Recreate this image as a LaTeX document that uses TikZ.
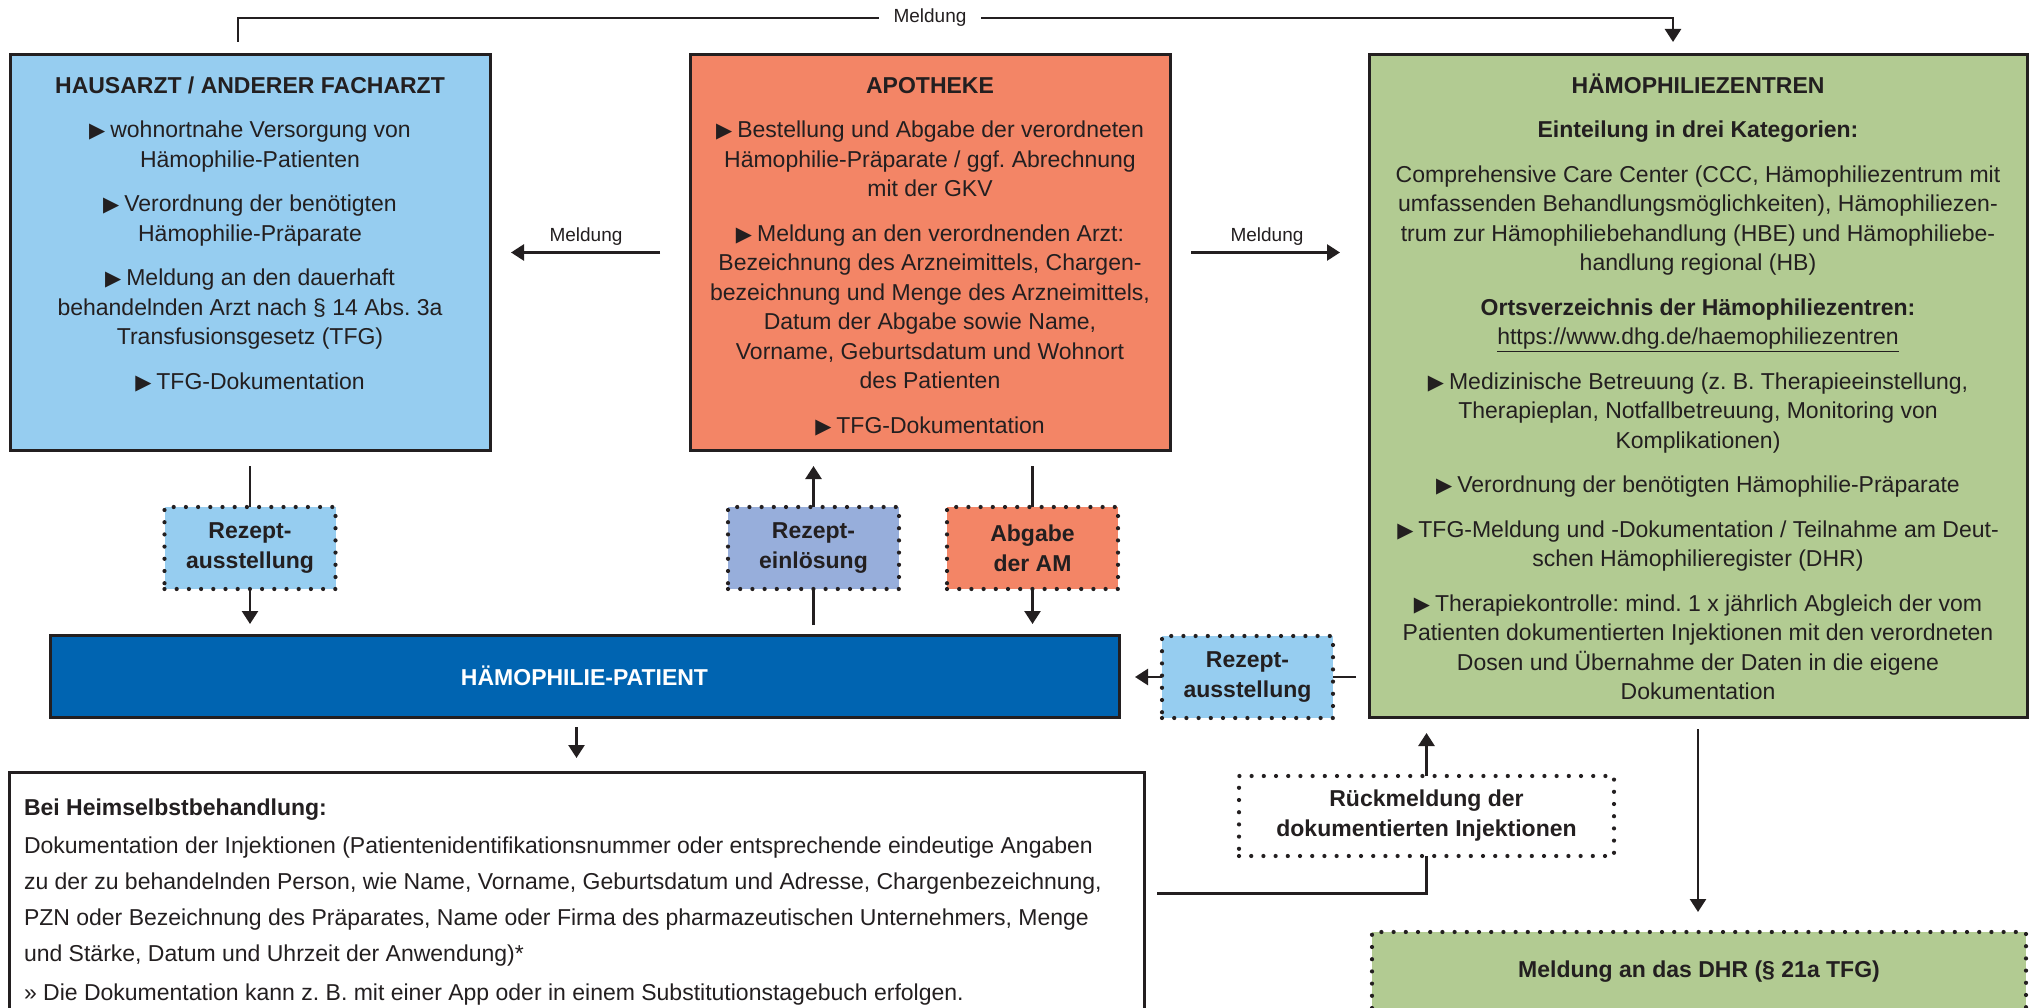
\documentclass[tikz,border=0pt]{standalone}
\usepackage{fontspec}
\setmainfont{Liberation Sans}
\newfontfamily\symfont{DejaVu Sans}
\usetikzlibrary{arrows.meta,calc}
\definecolor{ink}{HTML}{231F20}
\definecolor{hblue}{HTML}{96CDF0}
\definecolor{orangeC}{HTML}{F38566}
\definecolor{zgreen}{HTML}{B2CB92}
\definecolor{peri}{HTML}{97AEDB}
\definecolor{patblue}{HTML}{0064B1}
\newcommand{\tri}{{\symfont\fontsize{21}{21}\selectfont ▶}\hspace{5pt}}
\frenchspacing
\begin{document}
\frenchspacing
\begin{tikzpicture}[x=1pt,y=-1pt,
  every node/.style={inner sep=0pt, outer sep=0pt, text=ink},
  box/.style={draw=ink, line width=3pt, rectangle},
  dbox/.style={draw=ink, line width=4.2pt, dash pattern=on 0pt off 12.2pt, line cap=round, rectangle,
    font=\bfseries\fontsize{23}{30}\selectfont, align=center},
  conn/.style={draw=ink, line width=2.6pt},
  arr/.style={conn, -{Triangle[width=16pt,length=13pt]}},
  body/.style={font=\fontsize{23}{29.5}\selectfont\frenchspacing, align=center, anchor=north},
  lbl/.style={font=\fontsize{19}{22}\selectfont}
]
\useasboundingbox (0,0) rectangle (2035,1008);
\clip (0,0) rectangle (2035,1008);

% main boxes
\node[box, fill=hblue, minimum width=480pt, minimum height=395pt] (haus) at (250,252.5) {};
\node[box, fill=orangeC, minimum width=480pt, minimum height=395pt] (apo) at (930,252.5) {};
\node[box, fill=zgreen, minimum width=658pt, minimum height=662pt] (zent) at (1698,386) {};
\node[box, fill=patblue, minimum width=1069pt, minimum height=82pt, text=white,
  font=\bfseries\fontsize{23}{29.5}\selectfont] (pat) at (584.5,676) {HÄMOPHILIE-PATIENT};
\node[box, fill=white, minimum width=1135pt, minimum height=243pt] (heim) at (576.5,893.5) {};

% small dotted boxes
\node[dbox, fill=hblue, minimum width=171pt, minimum height=82pt] (rez1) at (250,548) {Rezept-\\ausstellung};
\node[dbox, fill=peri, minimum width=171pt, minimum height=82pt] (rez2) at (813.5,548) {Rezept-\\einlösung};
\node[dbox, fill=orangeC, minimum width=171pt, minimum height=82pt] (abg) at (1032.5,548) {Abgabe\\der AM};
\node[dbox, fill=hblue, minimum width=171pt, minimum height=82pt] (rez3) at (1247.5,677) {Rezept-\\ausstellung};
\node[dbox, fill=white, minimum width=375pt, minimum height=80pt] (rueck) at (1426.5,816) {Rückmeldung der\\dokumentierten Injektionen};
\node[dbox, fill=zgreen, minimum width=654pt, minimum height=80pt] (dhr) at (1699,972) {Meldung an das DHR (§ 21a TFG)};

% texts of main boxes
\node[body] (hausT) at (250,72.6) {\strut\textbf{HAUSARZT / ANDERER FACHARZT}\\[15pt]
\tri wohnortnahe Versorgung von\\
Hämophilie-Patienten\\[15pt]
\tri Verordnung der benötigten\\
Hämophilie-Präparate\\[15pt]
\tri Meldung an den dauerhaft\\
behandelnden Arzt nach § 14 Abs. 3a\\
Transfusionsgesetz (TFG)\\[15pt]
\tri TFG-Dokumentation};

\node[body] (apoT) at (930,72.6) {\strut\textbf{APOTHEKE}\\[15pt]
\tri Bestellung und Abgabe der verordneten\\
Hämophilie-Präparate / ggf. Abrechnung\\
mit der GKV\\[15pt]
\tri Meldung an den verordnenden Arzt:\\
Bezeichnung des Arzneimittels, Chargen-\\
bezeichnung und Menge des Arzneimittels,\\
Datum der Abgabe sowie Name,\\
Vorname, Geburtsdatum und Wohnort\\
des Patienten\\[15pt]
\tri TFG-Dokumentation};

\node[body] (zentT) at (1698,72.6) {\strut\textbf{HÄMOPHILIEZENTREN}\\[15pt]
\textbf{Einteilung in drei Kategorien:}\\[15pt]
Comprehensive Care Center (CCC, Hämophiliezentrum mit\\
umfassenden Behandlungsmöglichkeiten), Hämophiliezen-\\
trum zur Hämophiliebehandlung (HBE) und Hämophiliebe-\\
handlung regional (HB)\\[15pt]
\textbf{Ortsverzeichnis der Hämophiliezentren:}\\
\underline{https://www.dhg.de/haemophiliezentren}\\[15pt]
\tri Medizinische Betreuung (z. B. Therapieeinstellung,\\
Therapieplan, Notfallbetreuung, Monitoring von\\
Komplikationen)\\[15pt]
\tri Verordnung der benötigten Hämophilie-Präparate\\[15pt]
\tri TFG-Meldung und -Dokumentation / Teilnahme am Deut-\\
schen Hämophilieregister (DHR)\\[15pt]
\tri Therapiekontrolle: mind. 1 x jährlich Abgleich der vom\\
Patienten dokumentierten Injektionen mit den verordneten\\
Dosen und Übernahme der Daten in die eigene\\
Dokumentation};

\node[font=\fontsize{23}{36}\selectfont\frenchspacing, align=left, anchor=north west] (heimT) at (24,790) {\strut\textbf{Bei Heimselbstbehandlung:}\\[2pt]
Dokumentation der Injektionen (Patientenidentifikationsnummer oder entsprechende eindeutige Angaben\\
zu der zu behandelnden Person, wie Name, Vorname, Geburtsdatum und Adresse, Chargenbezeichnung,\\
PZN oder Bezeichnung des Präparates, Name oder Firma des pharmazeutischen Unternehmers, Menge\\
und Stärke, Datum und Uhrzeit der Anwendung)*\\[3pt]
» Die Dokumentation kann z. B. mit einer App oder in einem Substitutionstagebuch erfolgen.};

% top Meldung connector
\coordinate (tl) at (238,42);
\coordinate (tr) at (1673,42);
\draw[arr] (tl) -- (238,18) -- (1673,18) -- (tr);
\node[lbl, fill=white, inner xsep=15pt, inner ysep=4pt] (mtop) at (930,18) {Meldung};

% side Meldung arrows
\draw[arr, shorten <=30pt, shorten >=21pt] (apo.west) -- (haus.east);
\node[lbl] (mleft) at (586,237) {Meldung};
\draw[arr, shorten <=21pt, shorten >=29pt] (apo.east) -- (apo.east -| zent.west);
\node[lbl] (mright) at (1267,237) {Meldung};

% prescription flows
\draw[conn, shorten <=16pt] (haus.south) -- (rez1.north);
\draw[arr, shorten >=11pt] (rez1.south) -- (rez1.south |- pat.north);
\draw[conn, shorten <=10pt] (rez2.south |- pat.north) -- (rez2.south);
\draw[arr, shorten >=16pt] (rez2.north) -- (rez2.north |- apo.south);
\draw[conn, shorten <=16pt] (abg.north |- apo.south) -- (abg.north);
\draw[arr, shorten >=11pt] (abg.south) -- (abg.south |- pat.north);
\draw[conn, shorten <=13pt] (zent.west |- rez3.east) -- (rez3.east);
\draw[arr, shorten >=16pt] (rez3.west) -- (rez3.west -| pat.east);
\draw[arr, shorten <=10pt, shorten >=14pt] (heim.north |- pat.south) -- (heim.north);
\draw[conn, shorten <=13pt] (heim.east) -| (rueck.south);
\draw[arr, shorten >=16pt] (rueck.north) -- (rueck.north |- zent.south);
\draw[arr, shorten <=12pt, shorten >=20pt] (zent.south) -- (zent.south |- dhr.north);
\end{tikzpicture}
\end{document}
